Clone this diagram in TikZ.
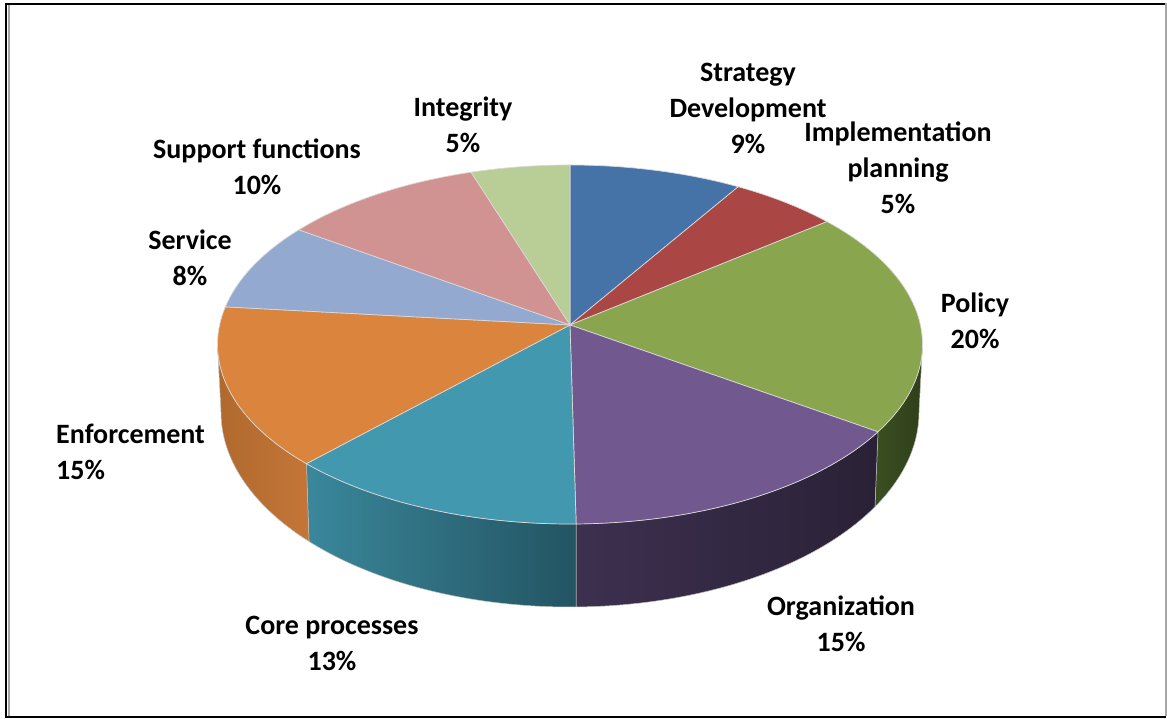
\documentclass[tikz,border=0pt]{standalone}
\usepackage{fontspec}
\setmainfont{Carlito}
\definecolor{strategy}{HTML}{4572A7}
\definecolor{implement}{HTML}{AA4643}
\definecolor{policy}{HTML}{89A54E}
\definecolor{organ}{HTML}{71588F}
\definecolor{core}{HTML}{4198AF}
\definecolor{enforce}{HTML}{DB843D}
\definecolor{service}{HTML}{93A9CF}
\definecolor{support}{HTML}{D19392}
\definecolor{integ}{HTML}{B9CD96}
\definecolor{policy side L}{HTML}{3B4F21}
\definecolor{policy side R}{HTML}{2F3F19}
\definecolor{organ side L}{HTML}{3D3050}
\definecolor{organ side R}{HTML}{2A2136}
\definecolor{core side L}{HTML}{3A879B}
\definecolor{core side R}{HTML}{235462}
\definecolor{enforce side L}{HTML}{B0692D}
\definecolor{enforce side R}{HTML}{C47638}
\tikzstyle{slice}=[draw=white!85!black, line width=0.7pt, line join=round]
\tikzstyle{side}=[draw=white!75!black, line width=0.5pt, line join=round]
\tikzstyle{share}=[align=center, inner sep=0, font=\fontsize{28}{36}\selectfont\bfseries]
\tikzstyle{frame}=[line width=2pt]

\begin{document}
\begin{tikzpicture}[x=1pt, y=1pt]
      \useasboundingbox (0,0) rectangle (1167,719);

      % frame
      \draw[frame] (5,715) -- (1167,715);
      \draw[frame] (6,716) -- (6,1);
      \draw[frame] (5,2) -- (1166,2);
      \draw[frame, gray!70] (9,714) -- (9,3);
      \draw[frame, gray!70] (1165.5,716) -- (1165.5,3);

      \coordinate (apex) at (570,394);
      \coordinate (top c) at (570,374.5);
      \coordinate (bot c) at (570,307);

      % sides of the front slices
      \foreach \s/\e/\c in {0/-29.1/policy, -29.1/-89/organ, -89/-138.4/core, -138.4/-180/enforce}
        \path[side, left color=\c\space side L, right color=\c\space side R]
          ([shift={(top c)}]\s:352.5pt and 179.5pt)
          arc[start angle=\s, end angle=\e, x radius=352.5pt, y radius=179.5pt]
          -- ([shift={(bot c)}]\e:349pt and 195pt)
          arc[start angle=\e, end angle=\s, x radius=349pt, y radius=195pt]
          -- cycle;

      % top of the pie
      \foreach \s/\e/\c in {90/61.5/strategy, 61.5/43.2/implement, 43.2/-29.1/policy,
          -29.1/-89/organ, -89/-138.4/core, -138.4/-192.1/enforce,
          -192.1/-219.7/service, -219.7/-253.7/support, -253.7/-270/integ}
        \path[slice, fill=\c] (apex)
          -- ([shift={(top c)}]\s:352.5pt and 179.5pt)
          arc[start angle=\s, end angle=\e, x radius=352.5pt, y radius=179.5pt]
          -- cycle;

      % labels
      \node[share] (strategy) at (748,610.5) {Strategy\\Development\\9\%};
      \node[share] (implement) at (898,551.5) {Implementation\\planning\\5\%};
      \node[share] (policy) at (975,398) {Policy\\20\%};
      \node[share] (organ) at (841,95) {Organization\\15\%};
      \node[share] (core) at (332,75.5) {Core processes\\13\%};
      \node[share, align=left, anchor=west] (enforce) at (56,267) {Enforcement\\15\%};
      \node[share] (service) at (190,461.5) {Service\\8\%};
      \node[share] (support) at (257,552.5) {Support functions\\10\%};
      \node[share] (integ) at (463,594.5) {Integrity\\5\%};
\end{tikzpicture}
\end{document}
